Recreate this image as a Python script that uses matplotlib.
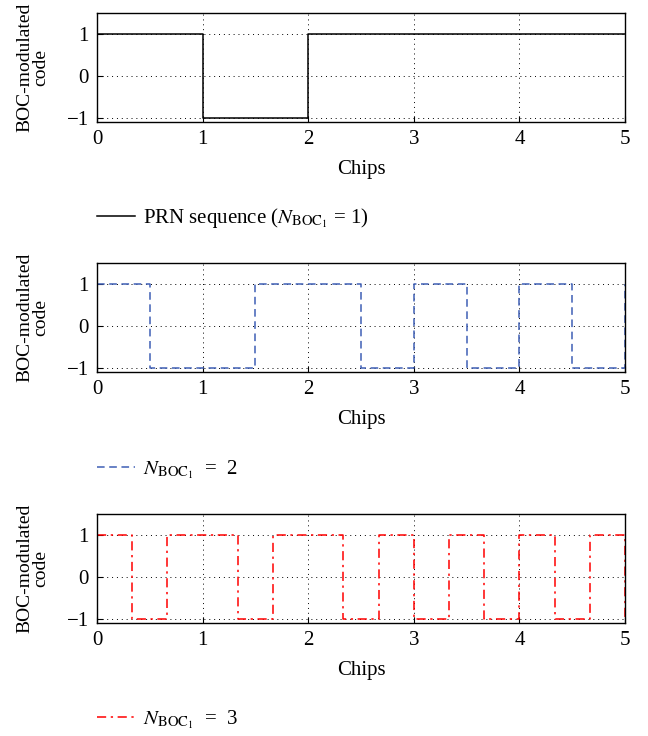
import numpy as np
import matplotlib.pyplot as plt

plt.rcParams['font.family'] = ['Liberation Serif', 'DejaVu Serif']
plt.rcParams['mathtext.fontset'] = 'stix'

# sub-chip values of each code (one value per sub-chip)
prn_code = [1, -1, 1, 1, 1]
boc2_code = [1, -1, -1, 1, 1, -1, 1, -1, 1, -1]
boc3_code = [1, -1, 1, 1, -1, 1, 1, -1, 1, -1, 1, -1, 1, -1, 1]
# value the code steps to right at the end (x = 5)
end_values = [1, 1, -1]

labels = [r'PRN sequence ($N_{\mathrm{BOC}_1}$ = 1)',
          r'$N_{\mathrm{BOC}_1}$  =  2',
          r'$N_{\mathrm{BOC}_1}$  =  3']
colors = ['black', '#3f5fb5', '#ff0000']
styles = ['-', (0, (5, 3)), (0, (6, 3, 1.5, 3))]
n_chips = 5

W, H = 648, 736
fig = plt.figure(figsize=(W / 100, H / 100), dpi=100)

tops = [13, 263, 514]
codes = [prn_code, boc2_code, boc3_code]
legend_y = [218, 470, 720]

for i, code in enumerate(codes):
    top = tops[i]
    ax = fig.add_axes([97 / W, 1 - (top + 109) / H, 528 / W, 109 / H])
    sub = len(code) / n_chips
    x = np.arange(len(code) + 1) / sub
    y = list(code) + [end_values[i]]
    line, = ax.step(x, y, where='post', color=colors[i], linestyle=styles[i],
                    linewidth=1.1, label=labels[i])
    ax.set_xlim(0, 5)
    ax.set_ylim(-1.1, 1.5)
    ax.set_xticks([0, 1, 2, 3, 4, 5])
    ax.set_yticks([-1, 0, 1])
    ax.set_yticklabels(['\u22121', '0', '1'])
    ax.grid(True, color='black', linestyle=(0, (1, 4)), linewidth=0.7)
    ax.tick_params(direction='in', length=4, labelsize=15, pad=6)
    for s in ax.spines.values():
        s.set_linewidth(1.0)
    ax.set_xlabel('Chips', fontsize=15, labelpad=8)
    ax.set_ylabel('BOC-modulated\ncode', fontsize=14, linespacing=0.95)
    ax.yaxis.set_label_coords(-0.09, 0.5)

    fig.legend(handles=[line], loc='center left',
               bbox_to_anchor=(97 / W, 1 - legend_y[i] / H),
               frameon=False, fontsize=15, handlelength=1.8,
               handletextpad=0.4, borderpad=0, borderaxespad=0)

fig.savefig('out.png', dpi=100)
